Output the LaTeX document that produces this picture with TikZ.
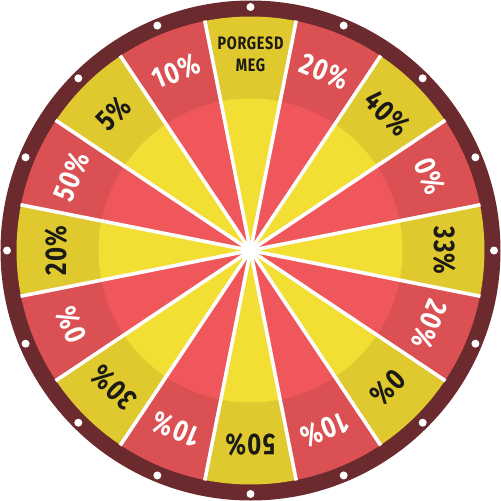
\documentclass[tikz,border=0pt]{standalone}
\usepackage{fontspec}
\setmainfont{Fira Sans}[FakeStretch=0.8, LetterSpace=4]
\definecolor{rimc}{HTML}{6B2A2E}
\definecolor{redout}{HTML}{DB5052}
\definecolor{redin}{HTML}{F0575B}
\definecolor{yelout}{HTML}{DFC92F}
\definecolor{yelin}{HTML}{F3DE34}
\definecolor{darktxt}{HTML}{1C1A14}
\tikzset{
  lbl/.style={font=\bfseries\fontsize{30}{32}\selectfont, inner sep=0pt},
  sep/.style={draw=white, line width=3.6pt},
  rimdot/.style={circle, fill=white, inner sep=0pt, minimum size=8pt}
}
\begin{document}
\begin{tikzpicture}[x=1pt,y=1pt]
\useasboundingbox (-250.5,-250.5) rectangle (250.5,250.5);
\coordinate (c) at (0,0);
\fill[rimc] (c) circle (250);
\foreach \i in {0,...,15} {
  \pgfmathsetmacro\a{90-22.5*\i}
  \pgfmathsetmacro\s{\a-11.25}
  \pgfmathsetmacro\e{\a+11.25}
  \ifodd\i
    \def\oc{redout}\def\ic{redin}
  \else
    \def\oc{yelout}\def\ic{yelin}
  \fi
  \fill[\oc] (c) -- (\s:234) arc[start angle=\s, end angle=\e, radius=234] -- cycle;
  \fill[\ic] (c) -- (\s:152) arc[start angle=\s, end angle=\e, radius=152] -- cycle;
}
\foreach \i in {0,...,15} {
  \pgfmathsetmacro\s{90-22.5*\i-11.25}
  \coordinate (e\i) at (\s:234.5);
  \draw[sep] (c) -- (e\i);
  \node[rimdot] (d\i) at (90-22.5*\i:243.5) {};
}
\fill[white] (c) circle (9);
\foreach \i/\t/\col in {1/20\%/white, 2/40\%/darktxt, 3/0\%/white, 4/33\%/darktxt,
  5/20\%/white, 6/0\%/darktxt, 7/10\%/white, 8/50\%/darktxt,
  9/10\%/white, 10/30\%/darktxt, 11/0\%/white, 12/20\%/darktxt,
  13/50\%/white, 14/5\%/darktxt, 15/10\%/white} {
  \pgfmathsetmacro\a{90-22.5*\i}
  \node[lbl, text=\col, rotate=\a-90] (t\i) at (\a:194) {\t};
}
\node[font=\bfseries\fontsize{18}{22}\selectfont, text=darktxt, align=center, inner sep=0pt] (t0) at (90:196) {PORGESD\\MEG};
\end{tikzpicture}
\end{document}
